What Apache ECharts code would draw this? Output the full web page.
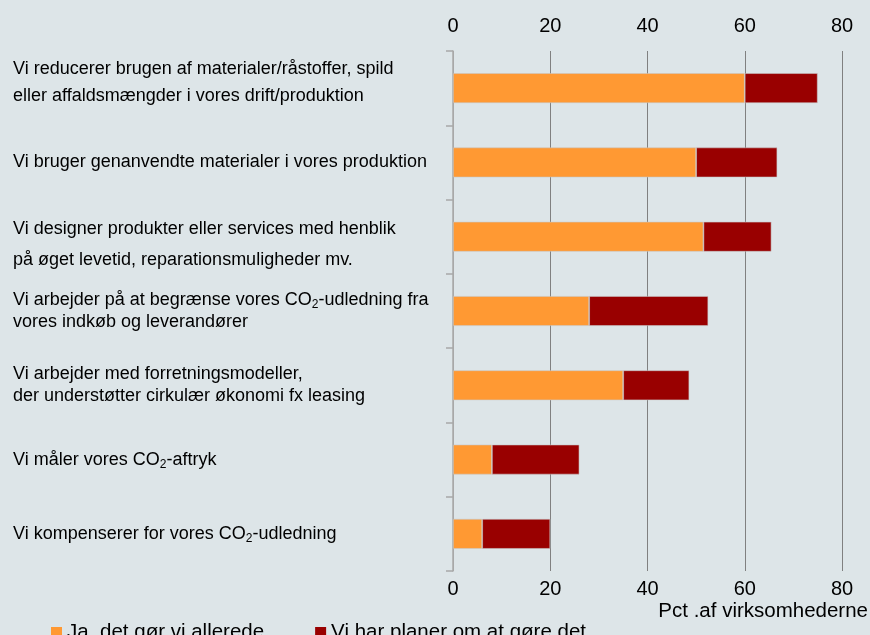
<!DOCTYPE html>
<html>
<head>
<meta charset="utf-8">
<script src="https://cdn.jsdelivr.net/npm/echarts@6/dist/echarts.min.js"></script>
<style>
  html, body { margin: 0; padding: 0; background: #dde5e8; }
  #main { width: 870px; height: 635px; }
</style>
</head>
<body>
<div id="main"></div>
<script>
var dom = document.getElementById("main");
var myChart = echarts.init(dom);

// data
var categories = [
    '{w|Vi reducerer brugen af materialer/råstoffer, spild}\n{w|eller affaldsmængder i vores drift/produktion}',
    'Vi bruger genanvendte materialer i vores produktion',
    '{v|Vi designer produkter eller services med henblik}\n{v|på øget levetid, reparationsmuligheder mv.}',
    'Vi arbejder på at begrænse vores CO{sub|2}-udledning fra\nvores indkøb og leverandører',
    'Vi arbejder med forretningsmodeller,\nder understøtter cirkulær økonomi fx leasing',
    'Vi måler vores CO{sub|2}-aftryk',
    'Vi kompenserer for vores CO{sub|2}-udledning'
];
var allerede = [60, 50, 51.5, 28, 35, 8, 6];
var planer = [15, 16.7, 14, 24.5, 13.6, 18, 14];
var ticks = [0, 20, 40, 60, 80];
var seriesNames = ['Ja, det gør vi allerede', 'Vi har planer om at gøre det'];
var axisName = 'Pct .af virksomhederne';

var font = 'Arial, "Liberation Sans", sans-serif';

option = null;
option = {
    backgroundColor: '#dde5e8',
    animation: false,
    textStyle: { fontFamily: font },
    title: {
        text: axisName,
        right: 2,
        top: 601,
        padding: 0,
        textStyle: { fontSize: 20.5, fontWeight: 'normal', color: '#000', fontFamily: font }
    },
    legend: {
        data: seriesNames,
        left: 46,
        top: 617,
        itemWidth: 11,
        itemHeight: 11,
        itemGap: 51,
        icon: 'rect',
        itemStyle: { borderWidth: 0 },
        textStyle: { fontSize: 20.5, color: '#000', fontFamily: font }
    },
    grid: { left: 453, right: 28, top: 51, bottom: 64, containLabel: false },
    xAxis: [{
        type: 'value',
        position: 'bottom',
        min: ticks[0],
        max: ticks[ticks.length - 1],
        interval: 20,
        axisLine: { show: false },
        axisTick: { show: false },
        axisLabel: { fontSize: 20, color: '#000', margin: 8, fontFamily: font },
        splitLine: { show: true, lineStyle: { color: ['#a8a8a8', '#808080', '#808080', '#808080', '#808080'], width: 1 } }
    }, {
        type: 'value',
        position: 'top',
        min: ticks[0],
        max: ticks[ticks.length - 1],
        interval: 20,
        axisLine: { show: false },
        axisTick: { show: false },
        axisLabel: { fontSize: 20, color: '#000', margin: 15, fontFamily: font },
        splitLine: { show: false }
    }],
    yAxis: {
        type: 'category',
        inverse: true,
        data: categories,
        axisLine: { show: true, lineStyle: { color: '#a8a8a8', width: 1.5 } },
        axisTick: { show: true, length: 7, lineStyle: { color: '#a8a8a8', width: 1.5 } },
        axisLabel: {
            align: 'left',
            margin: 440,
            fontSize: 18,
            color: '#000',
            lineHeight: 22,
            fontFamily: font,
            rich: {
                w: { fontSize: 18, lineHeight: 27, padding: [0, 0, 11, 0], color: '#000', fontFamily: font },
                v: { fontSize: 18, lineHeight: 31, padding: [15, 0, 0, 0], color: '#000', fontFamily: font },
                sub: { fontSize: 12, lineHeight: 12, verticalAlign: 'bottom', color: '#000', fontFamily: font }
            }
        }
    },
    series: [{
        name: seriesNames[0],
        type: 'bar',
        stack: 'total',
        barWidth: 30,
        itemStyle: { color: '#ff9933', borderColor: 'rgba(200,200,200,0.7)', borderWidth: 0.8 },
        data: allerede
    }, {
        name: seriesNames[1],
        type: 'bar',
        stack: 'total',
        barWidth: 30,
        itemStyle: { color: '#990000', borderColor: 'rgba(200,200,200,0.7)', borderWidth: 0.8 },
        data: planer
    }]
};
if (option && typeof option === "object") {
    myChart.setOption(option, true);
}
</script>
</body>
</html>
